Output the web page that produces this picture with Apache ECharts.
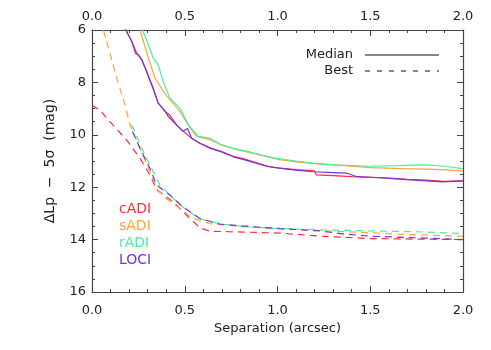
<!DOCTYPE html>
<html>
<head>
<meta charset="utf-8">
<script src="https://cdn.jsdelivr.net/npm/echarts@6/dist/echarts.min.js"></script>
<style>html,body{margin:0;padding:0;background:#fff;}#c{width:491px;height:350px;}</style>
</head>
<body>
<div id="c"></div>
<script>
// ---- data ----
const xTicks = [0.0, 0.5, 1.0, 1.5, 2.0];
const yTicks = [6, 8, 10, 12, 14, 16];
const methods = ['cADI', 'sADI', 'rADI', 'LOCI'];
const methodColors = ['#ff2a3a', '#ffa23c', '#3cf5a0', '#7432dc'];

const cadiMedian = [[0.175,5.9],[0.214,6.43],[0.241,6.88],[0.268,7.13],[0.295,7.58],[0.33,8.22],[0.357,8.79],[0.394,9.11],[0.42,9.25],[0.456,9.62],[0.49,9.85],[0.537,10.13],[0.582,10.32],[0.636,10.51],[0.70,10.65],[0.762,10.82],[0.82,10.92],[0.87,11.03],[0.95,11.2],[1.01,11.27],[1.1,11.33],[1.2,11.38],[1.21,11.53],[1.3,11.56],[1.4,11.6],[1.5,11.62],[1.6,11.65],[1.7,11.7],[1.8,11.73],[1.9,11.78],[2.0,11.76]];
const sadiMedian = [[0.255,5.92],[0.277,6.43],[0.304,7.07],[0.34,7.83],[0.384,8.34],[0.42,8.66],[0.474,9.11],[0.528,9.74],[0.564,10.06],[0.636,10.19],[0.70,10.4],[0.76,10.52],[0.834,10.65],[0.92,10.8],[1.013,10.95],[1.1,11.03],[1.2,11.1],[1.32,11.16],[1.5,11.25],[1.68,11.29],[1.85,11.32],[2.0,11.38]];
const radiMedian = [[0.268,5.92],[0.304,6.56],[0.33,7.07],[0.357,7.33],[0.384,7.96],[0.42,8.6],[0.474,8.98],[0.52,9.62],[0.573,10.06],[0.636,10.13],[0.69,10.35],[0.76,10.52],[0.834,10.62],[0.92,10.78],[0.995,10.9],[1.1,11.0],[1.19,11.08],[1.3,11.15],[1.5,11.2],[1.65,11.18],[1.79,11.15],[1.9,11.2],[2.0,11.29]];
const lociMedian = [[0.175,5.9],[0.214,6.43],[0.235,6.9],[0.25,6.95],[0.268,7.13],[0.295,7.6],[0.33,8.25],[0.357,8.79],[0.394,9.1],[0.411,9.3],[0.456,9.62],[0.49,9.87],[0.515,9.76],[0.537,10.13],[0.582,10.32],[0.636,10.5],[0.70,10.65],[0.762,10.84],[0.82,10.95],[0.87,11.05],[0.95,11.22],[1.01,11.27],[1.1,11.35],[1.19,11.41],[1.3,11.44],[1.37,11.46],[1.43,11.6],[1.55,11.64],[1.68,11.7],[1.8,11.76],[1.89,11.8],[2.0,11.76]];

const cadiBest = [[0,8.87],[0.043,9.06],[0.097,9.5],[0.187,10.2],[0.259,10.9],[0.313,11.54],[0.349,12.1],[0.438,12.56],[0.51,13.07],[0.582,13.55],[0.636,13.68],[0.744,13.7],[0.85,13.72],[1.013,13.75],[1.23,13.87],[1.5,13.96],[1.75,13.98],[2.0,14.0]];
const sadiBest = [[0.061,6.0],[0.097,6.88],[0.133,7.83],[0.178,8.85],[0.205,9.62],[0.259,10.52],[0.313,11.41],[0.349,12.05],[0.40,12.43],[0.474,12.81],[0.546,13.2],[0.636,13.39],[0.8,13.5],[1.013,13.58],[1.25,13.66],[1.5,13.74],[1.75,13.82],[2.0,13.87]];
const radiBest = [[0.214,9.62],[0.277,10.65],[0.33,11.41],[0.367,11.92],[0.438,12.43],[0.51,12.88],[0.582,13.2],[0.636,13.32],[0.744,13.45],[0.85,13.52],[1.013,13.58],[1.25,13.63],[1.5,13.67],[1.75,13.7],[2.0,13.77]];
const lociBest = [[0.218,9.87],[0.259,10.52],[0.313,11.29],[0.349,11.92],[0.42,12.3],[0.49,12.75],[0.582,13.2],[0.69,13.41],[0.85,13.5],[1.013,13.58],[1.23,13.67],[1.35,13.78],[1.5,13.87],[1.75,13.93],[2.0,14.0]];

const medianSets = [cadiMedian, sadiMedian, radiMedian, lociMedian];
const bestSets = [cadiBest, sadiBest, radiBest, lociBest];

// ---- chart ----
const FONT = 'DejaVu Sans';
const TXT = '#222';
const AX = '#444';
const chart = echarts.init(document.getElementById('c'), null, {renderer: 'canvas'});

function xAx(pos, show) {
  return {
    type: 'value', position: pos, min: xTicks[0], max: xTicks[xTicks.length-1], interval: 0.5,
    name: show ? 'Separation (arcsec)' : '', nameLocation: 'middle', nameGap: 30,
    nameTextStyle: {fontFamily: FONT, fontSize: 13, color: TXT},
    axisLine: {show: true, onZero: false, lineStyle: {color: AX, width: 1.2}},
    axisTick: {show: true, inside: true, length: 6, lineStyle: {color: AX}},
    minorTick: {show: true, splitNumber: 5, length: 3, lineStyle: {color: AX}},
    splitLine: {show: false},
    axisLabel: {show: true, margin: pos === 'top' ? 7 : 12, fontFamily: FONT, fontSize: 13, color: TXT,
      formatter: v => v.toFixed(1)}
  };
}
function yAx(pos, show) {
  return {
    type: 'value', position: pos, inverse: true, min: yTicks[0], max: yTicks[yTicks.length-1], interval: 2,
    name: show ? 'ΔLp  −  5σ  (mag)' : '', nameLocation: 'middle', nameGap: 35,
    nameTextStyle: {fontFamily: FONT, fontSize: 14, color: TXT},
    axisLine: {show: true, onZero: false, lineStyle: {color: AX, width: 1.2}},
    axisTick: {show: true, inside: true, length: 6, lineStyle: {color: AX}},
    minorTick: {show: true, splitNumber: 4, length: 3, lineStyle: {color: AX}},
    splitLine: {show: false},
    axisLabel: {show: show, margin: 6, fontFamily: FONT, fontSize: 13, color: TXT}
  };
}

const series = [];
methods.forEach((m, i) => {
  series.push({name: m + ' median', type: 'line', data: medianSets[i], showSymbol: false, symbol: 'none',
    clip: true, lineStyle: {color: methodColors[i], width: 1.2}, z: 2 + i});
});
methods.forEach((m, i) => {
  series.push({name: m + ' best', type: 'line', data: bestSets[i], showSymbol: false, symbol: 'none',
    clip: true, lineStyle: {color: methodColors[i], width: 1.2, type: [7, 5]}, z: 2 + i});
});

const graphics = [
  {type: 'text', style: {x: 353, y: 55, text: 'Median', align: 'right', verticalAlign: 'middle', font: '13px "DejaVu Sans"', fill: TXT}},
  {type: 'line', shape: {x1: 365, y1: 55, x2: 439, y2: 55}, style: {stroke: '#111', lineWidth: 1}},
  {type: 'text', style: {x: 353, y: 71, text: 'Best', align: 'right', verticalAlign: 'middle', font: '13px "DejaVu Sans"', fill: TXT}},
  {type: 'line', shape: {x1: 365, y1: 71, x2: 439, y2: 71}, style: {stroke: '#111', lineWidth: 1, lineDash: [5, 7]}}
];
const labelYs = [209, 226, 243, 260];
methods.forEach((m, i) => {
  graphics.push({type: 'text', style: {x: 119, y: labelYs[i], text: m, align: 'left', verticalAlign: 'middle',
    font: '14px "DejaVu Sans"', fill: methodColors[i]}});
});

chart.setOption({
  animation: false,
  backgroundColor: '#fff',
  grid: {left: 92, right: 28, top: 30, bottom: 58, containLabel: false},
  xAxis: [xAx('bottom', true), xAx('top', false)],
  yAxis: [yAx('left', true), yAx('right', false)],
  series: series,
  graphic: graphics
});
</script>
</body>
</html>
